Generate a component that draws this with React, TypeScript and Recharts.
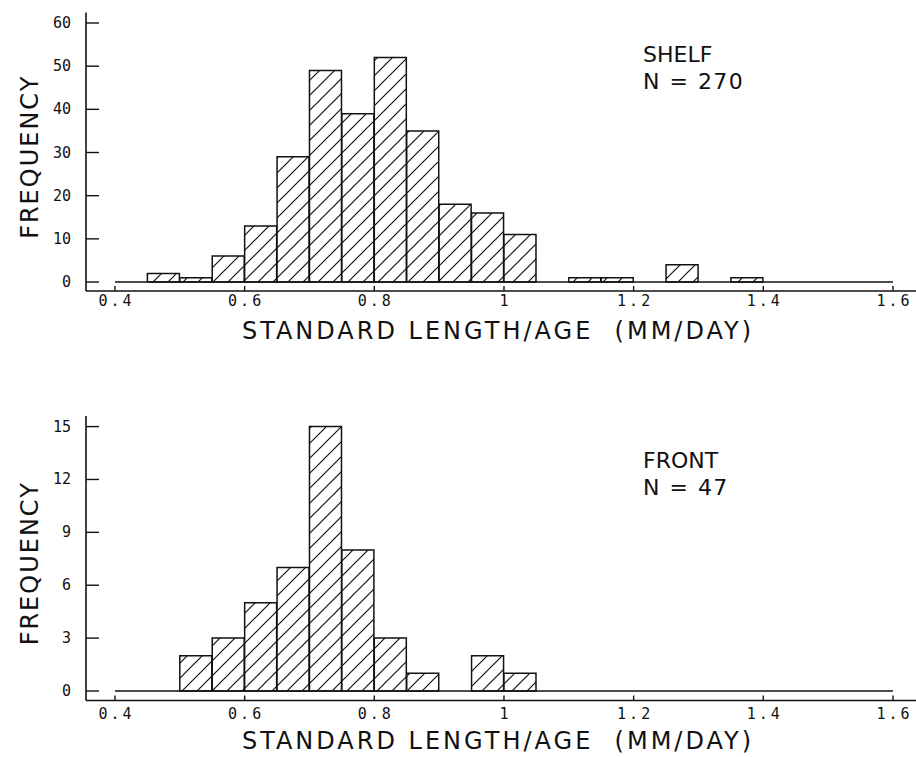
import React from 'react';
import { ComposedChart, Bar, XAxis, YAxis, ReferenceLine, Label } from 'recharts';

// histogram bins (lower edges), width 0.05 mm/day
const binLow = [
  0.4, 0.45, 0.5, 0.55, 0.6, 0.65, 0.7, 0.75, 0.8, 0.85, 0.9, 0.95,
  1.0, 1.05, 1.1, 1.15, 1.2, 1.25, 1.3, 1.35, 1.4, 1.45, 1.5, 1.55,
];
const BIN_WIDTH = 0.05;

const shelfCounts = [0, 2, 1, 6, 13, 29, 49, 39, 52, 35, 18, 16, 11, 0, 1, 1, 0, 4, 0, 1, 0, 0, 0, 0];
const frontCounts = [0, 0, 2, 3, 5, 7, 15, 8, 3, 1, 0, 2, 1, 0, 0, 0, 0, 0, 0, 0, 0, 0, 0, 0];

const xTicks = [0.4, 0.6, 0.8, 1.0, 1.2, 1.4, 1.6];
const shelfYTicks = [0, 10, 20, 30, 40, 50, 60];
const frontYTicks = [0, 3, 6, 9, 12, 15];

const X_DOMAIN: [number, number] = [0.3553, 1.6386];
const INK = '#111';
const FONT = '"DejaVu Sans", sans-serif';
const MONO = '"DejaVu Sans Mono", monospace';

const fmtX = (v: number) => String(Number(v.toFixed(1)));

function XTick({ x, y, payload }: any) {
  return (
    <text x={x + 1.5} y={y} dy={12} textAnchor="middle" fill={INK} fontFamily={MONO} fontSize={15} style={{ letterSpacing: 3 }}>
      {fmtX(payload.value)}
    </text>
  );
}

function YTick({ x, y, payload }: any) {
  return (
    <text x={x} y={y} dy={5} textAnchor="end" fill={INK} fontFamily={MONO} fontSize={15}>
      {payload.value}
    </text>
  );
}

const Empty = () => <g />;

interface PanelProps {
  id: string;
  counts: number[];
  yTicks: number[];
  yDomain: [number, number];
  height: number;
  marginTop: number;
  xAxisHeight: number;
  tickGap: number;
  site: string;
  n: number;
  noteY: number;
}

function Panel({ id, counts, yTicks, yDomain, height, marginTop, xAxisHeight, tickGap, site, n, noteY }: PanelProps) {
  const data = binLow.map((lo, i) => ({ x: lo + BIN_WIDTH / 2, count: counts[i] }));
  const first = binLow[0];
  const last = binLow[binLow.length - 1] + BIN_WIDTH;
  return (
    <ComposedChart
      width={916}
      height={height}
      data={data}
      margin={{ top: marginTop, right: -2, bottom: 0, left: 0 }}
      barCategoryGap={0}
      barGap={0}
    >
      <defs>
        <pattern id={`hatch-${id}`} patternUnits="userSpaceOnUse" width={15} height={15}>
          <rect width={15} height={15} fill="#fff" />
          <path d="M0,15 L15,0 M-4,4 L4,-4 M11,19 L19,11" stroke={INK} strokeWidth={1.2} />
        </pattern>
      </defs>
      <XAxis
        dataKey="x"
        type="number"
        domain={X_DOMAIN}
        allowDataOverflow
        ticks={xTicks}
        interval={0}
        height={xAxisHeight}
        axisLine={{ stroke: INK, strokeWidth: 1.6 }}
        tickLine={{ stroke: INK, strokeWidth: 1.4 }}
        tickSize={-5}
        tickMargin={tickGap}
        tick={<XTick />}
      >
        <Label
          content={({ viewBox }: any) => (
            <text
              x={498}
              y={viewBox.y + 48}
              textAnchor="middle"
              fill={INK}
              fontFamily={FONT}
              fontSize={24}
              style={{ letterSpacing: 3, whiteSpace: 'pre' }}
            >
              {'STANDARD LENGTH/AGE  (MM/DAY)'}
            </text>
          )}
        />
      </XAxis>
      <XAxis
        xAxisId="top"
        orientation="top"
        type="number"
        domain={X_DOMAIN}
        allowDataOverflow
        ticks={xTicks}
        height={0}
        axisLine={{ stroke: INK, strokeWidth: 1.6 }}
        tickLine={{ stroke: INK, strokeWidth: 1.4 }}
        tickSize={-5}
        tick={<Empty />}
      />
      <YAxis
        type="number"
        domain={yDomain}
        allowDataOverflow
        ticks={yTicks}
        interval={0}
        width={86}
        axisLine={{ stroke: INK, strokeWidth: 1.6 }}
        tickLine={{ stroke: INK, strokeWidth: 1.4 }}
        tickSize={-13}
        tickMargin={28}
        tick={<YTick />}
      >
        <Label
          content={({ viewBox }: any) => {
            const cx = 29;
            const cy = viewBox.y + viewBox.height / 2 + 5;
            return (
              <text
                x={cx}
                y={cy}
                dy={9}
                transform={`rotate(-90 ${cx} ${cy})`}
                textAnchor="middle"
                fill={INK}
                fontFamily={FONT}
                fontSize={24}
                style={{ letterSpacing: 2 }}
              >
                FREQUENCY
              </text>
            );
          }}
        />
      </YAxis>
      <YAxis
        yAxisId="right"
        orientation="right"
        type="number"
        domain={yDomain}
        allowDataOverflow
        ticks={yTicks}
        width={0}
        axisLine={{ stroke: INK, strokeWidth: 1.6 }}
        tickLine={{ stroke: INK, strokeWidth: 1.4 }}
        tickSize={-8}
        tick={<Empty />}
      />
      <ReferenceLine
        segment={[{ x: first, y: 0 }, { x: last, y: 0 }]}
        stroke={INK}
        strokeWidth={1.6}
        ifOverflow="visible"
      />
      <Bar
        dataKey="count"
        fill={`url(#hatch-${id})`}
        stroke={INK}
        strokeWidth={1.5}
        isAnimationActive={false}
      />
      <text x={643} y={noteY} fill={INK} fontFamily={FONT} fontSize={22}>
        {site}
      </text>
      <text x={643} y={noteY + 27} fill={INK} fontFamily={FONT} fontSize={22} style={{ whiteSpace: 'pre', letterSpacing: 1.5 }}>
        {`N = ${n}`}
      </text>
    </ComposedChart>
  );
}

export default function App() {
  return (
    <div style={{ position: 'absolute', left: 0, top: 0, width: 916, height: 757, background: '#fff', overflow: 'hidden' }}>
      <Panel
        id="shelf"
        counts={shelfCounts}
        yTicks={shelfYTicks}
        yDomain={[-2.08, 62.43]}
        height={378}
        marginTop={12.5}
        xAxisHeight={87}
        tickGap={8}
        site="SHELF"
        n={270}
        noteY={62}
      />
      <Panel
        id="front"
        counts={frontCounts}
        yTicks={frontYTicks}
        yDomain={[-0.54, 15.6]}
        height={379}
        marginTop={38}
        xAxisHeight={56.5}
        tickGap={11}
        site="FRONT"
        n={47}
        noteY={90}
      />
    </div>
  );
}
